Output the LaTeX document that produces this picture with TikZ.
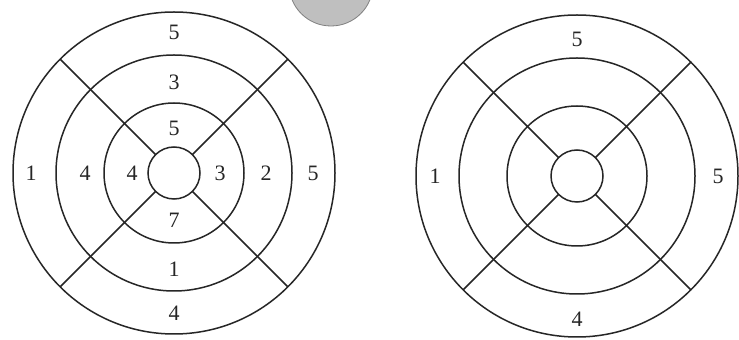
\documentclass[tikz,border=0pt]{standalone}
\usepackage{fontspec}
\setmainfont{Liberation Serif}
\tikzset{
  ring/.style={line width=1.5pt, draw=black!85},
  num/.style={font=\fontsize{22}{24}\selectfont, inner sep=0pt, text=black!85},
  blob/.style={fill=gray!50, draw=gray, line width=0.8pt}
}
\begin{document}
\begin{tikzpicture}[x=1pt,y=1pt]
\useasboundingbox (0,0) rectangle (739,340);
\clip (0,0) rectangle (739,340);
\fill[white] (0,0) rectangle (739,340);
% gray disc at the top, cut by the edge
\draw[blob] (331,356) circle[radius=42];
% left target
\begin{scope}[shift={(174,167)}]
  \foreach \r in {161,118,70,26} \draw[ring] (0,0) circle[radius=\r];
  \foreach \a in {45,135,225,315} \draw[ring] (\a:26) -- (\a:161);
  \node[num] (la1) at (90:141) {5};
  \node[num] (la2) at (180:143) {1};
  \node[num] (la3) at (0:139) {5};
  \node[num] (la4) at (270:140) {4};
  \node[num] (lb1) at (90:91) {3};
  \node[num] (lb2) at (180:89) {4};
  \node[num] (lb3) at (0:92) {2};
  \node[num] (lb4) at (270:96) {1};
  \node[num] (lc1) at (90:45) {5};
  \node[num] (lc2) at (180:42) {4};
  \node[num] (lc3) at (0:46) {3};
  \node[num] (lc4) at (270:47) {7};
\end{scope}
% right target
\begin{scope}[shift={(577,164)}]
  \foreach \r in {161,118,70,26} \draw[ring] (0,0) circle[radius=\r];
  \foreach \a in {45,135,225,315} \draw[ring] (\a:26) -- (\a:161);
  \node[num] (ra1) at (90:137) {5};
  \node[num] (ra2) at (180:142) {1};
  \node[num] (ra3) at (0:141) {5};
  \node[num] (ra4) at (270:143) {4};
\end{scope}
\end{tikzpicture}
\end{document}
